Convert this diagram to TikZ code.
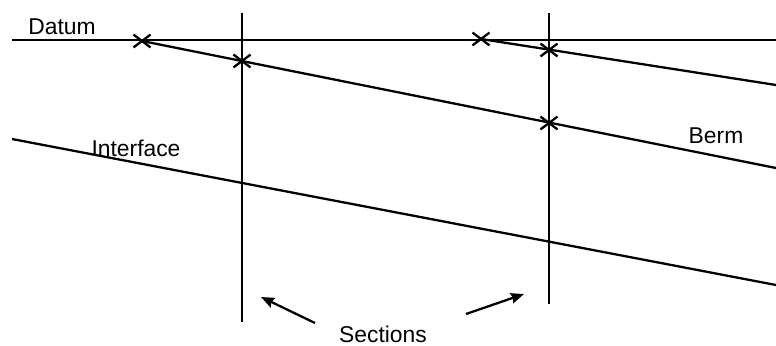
\documentclass[tikz,border=0pt]{standalone}
\usepackage{fontspec}
\setmainfont{Liberation Sans}
\usetikzlibrary{arrows.meta,shapes.misc}
\begin{document}
\begin{tikzpicture}[x=0.02cm, y=-0.02cm, line width=1.3pt,
    xmark/.style={cross out, draw, line width=1.3pt, minimum width=8.4pt,
                  minimum height=6pt, inner sep=0pt},
    lbl/.style={font=\fontsize{13}{15}\selectfont, inner sep=0pt},
    ptr/.style={-{Stealth[length=7.5pt, width=6pt, inset=1pt]}}]
  \useasboundingbox (0,0) rectangle (776,345);
  % End points of the lines
  \coordinate (datumL) at (12,40);
  \coordinate (datumR) at (776,40);
  \coordinate (secAtop) at (242,13);
  \coordinate (secAbot) at (242,322);
  \coordinate (secBtop) at (549,13);
  \coordinate (secBbot) at (549,304);
  \coordinate (lowerR) at (776,168);
  \coordinate (upperR) at (776,85);
  \coordinate (ifaceL) at (12,139);
  \coordinate (ifaceR) at (776,285);
  % Crossing marks
  \foreach \name/\pos in {xa/{(142,41)}, xb/{(242,61)}, xc/{(481,39)},
                          xd/{(549,50)}, xe/{(549,123)}} {
      \node[xmark] (\name) at \pos {};
  }
  % Datum and sections
  \draw (datumL) -- (datumR);
  \draw (secAtop) -- (secAbot);
  \draw (secBtop) -- (secBbot);
  % Sloping lines
  \draw (xa.center) -- (lowerR);
  \draw (xc.center) -- (upperR);
  \draw (ifaceL) -- (ifaceR);
  % Labels
  \node[lbl] (datum) at (62,27) {Datum};
  \node[lbl] (iface) at (136,148) {Interface};
  \node[lbl] (berm) at (716,136) {Berm};
  \node[lbl] (sections) at (383,334) {Sections};
  % Pointers to the sections
  \coordinate (tailA) at (315,323);
  \coordinate (headA) at (261,297);
  \coordinate (tailB) at (466,314);
  \coordinate (headB) at (524,294);
  \draw[ptr] (tailA) -- (headA);
  \draw[ptr] (tailB) -- (headB);
\end{tikzpicture}
\end{document}
